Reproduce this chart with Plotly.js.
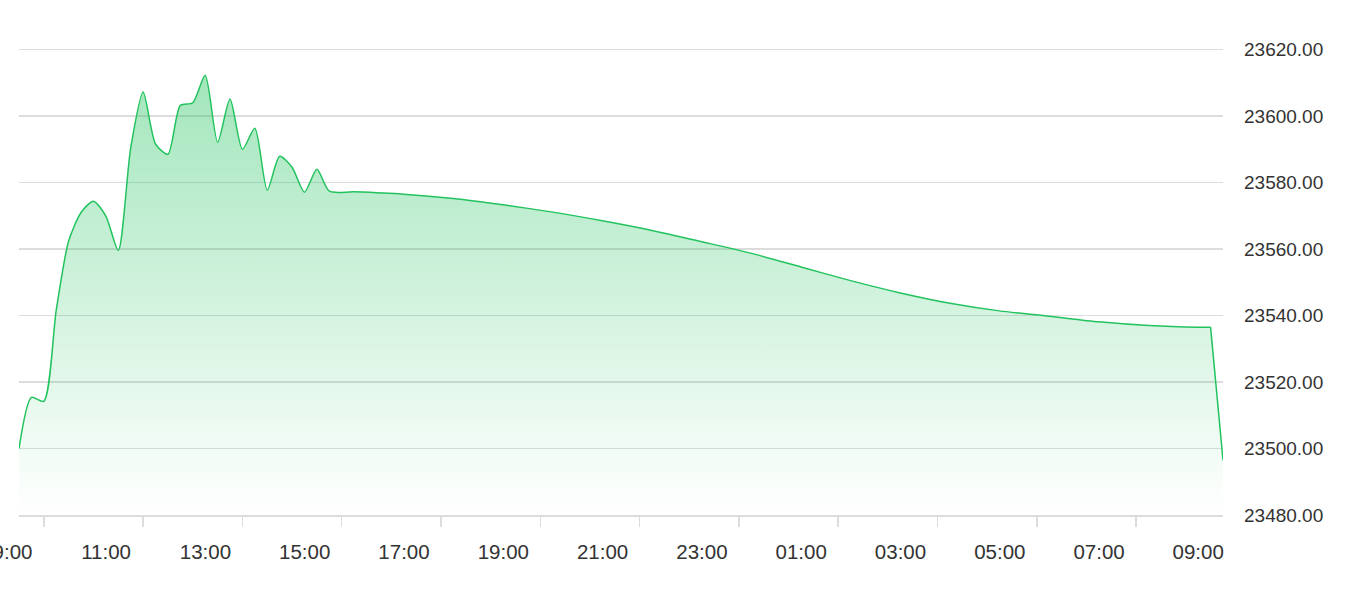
<!DOCTYPE html>
<html>
<head>
<meta charset="utf-8">
<script src="https://cdn.plot.ly/plotly-3.0.1.min.js"></script>
<style>
  html, body { margin: 0; padding: 0; background: #ffffff; }
  #chart { width: 1352px; height: 602px; }
</style>
</head>
<body>
<div id="chart"></div>
<script>
// ---- data ----
const times = [
  '2024-06-10 09:15', '2024-06-10 09:30', '2024-06-10 09:45', '2024-06-10 10:00',
  '2024-06-10 10:15', '2024-06-10 10:30', '2024-06-10 10:45', '2024-06-10 11:00',
  '2024-06-10 11:15', '2024-06-10 11:30', '2024-06-10 11:45', '2024-06-10 12:00',
  '2024-06-10 12:15', '2024-06-10 12:30', '2024-06-10 12:45', '2024-06-10 13:00',
  '2024-06-10 13:15', '2024-06-10 13:30', '2024-06-10 13:45', '2024-06-10 14:00',
  '2024-06-10 14:15', '2024-06-10 14:30', '2024-06-10 14:45', '2024-06-10 15:00',
  '2024-06-10 15:15', '2024-06-10 15:30', '2024-06-10 16:00', '2024-06-10 17:00',
  '2024-06-10 18:00', '2024-06-10 19:00', '2024-06-10 20:00', '2024-06-10 21:00',
  '2024-06-10 22:00', '2024-06-10 23:00', '2024-06-11 00:00', '2024-06-11 01:00',
  '2024-06-11 02:00', '2024-06-11 03:00', '2024-06-11 04:00', '2024-06-11 05:00',
  '2024-06-11 06:00', '2024-06-11 07:00', '2024-06-11 08:00', '2024-06-11 09:00',
  '2024-06-11 09:15', '2024-06-11 09:30'
];
const prices = [
  23500.0, 23515.4, 23514.2, 23541.6,
  23562.4, 23571.0, 23574.4, 23569.9,
  23559.6, 23590.4, 23607.2, 23591.6,
  23588.5, 23603.2, 23604.0, 23612.3,
  23592.1, 23605.1, 23590.0, 23596.3,
  23577.7, 23587.9, 23584.6, 23577.1,
  23584.0, 23577.4, 23577.2, 23576.5,
  23575.2, 23573.3, 23571.1, 23568.5,
  23565.6, 23562.2, 23558.7, 23554.6,
  23550.5, 23546.8, 23543.7, 23541.4,
  23539.8, 23538.1, 23537.0, 23536.5,
  23536.5, 23496.5
];
const xRange = ['2024-06-10 09:15', '2024-06-11 09:30'];
const yRange = [23480, 23631.9];
const tickTimes = [
  '2024-06-10 09:45', '2024-06-10 11:45', '2024-06-10 13:45', '2024-06-10 15:45',
  '2024-06-10 17:45', '2024-06-10 19:45', '2024-06-10 21:45', '2024-06-10 23:45',
  '2024-06-11 01:45', '2024-06-11 03:45', '2024-06-11 05:45', '2024-06-11 07:45'
];
const tickLabels = ['09:00', '11:00', '13:00', '15:00', '17:00', '19:00', '21:00',
                    '23:00', '01:00', '03:00', '05:00', '07:00'];
const lastTickTime = ['2024-06-11 09:00'];
const lastTickLabel = ['09:00'];

// ---- styles ----
const GREEN = 'rgb(34,195,94)';
const GRID = '#dcdcdc';
const TXT = '#333333';
const FONT = 'Liberation Sans, Arial, sans-serif';
const FSY = 19;
const FSX = 20.5;

const gradient = {
  type: 'vertical', start: 23480, stop: 23612,
  colorscale: [[0, 'rgba(34,195,94,0)'], [1, 'rgba(34,195,94,0.42)']]
};
const n = times.length;

const traces = [
  {
    // session + overnight drift (smoothed)
    x: times.slice(0, n - 1), y: prices.slice(0, n - 1), type: 'scatter', mode: 'lines',
    line: { color: GREEN, width: 1.5, shape: 'spline', smoothing: 0.7 },
    fill: 'tozeroy', fillgradient: gradient,
    hoverinfo: 'skip', showlegend: false
  },
  {
    // final drop at the open
    x: times.slice(n - 2), y: prices.slice(n - 2), type: 'scatter', mode: 'lines',
    line: { color: GREEN, width: 1.5, shape: 'linear' },
    fill: 'tozeroy', fillgradient: gradient,
    hoverinfo: 'skip', showlegend: false
  },
  { x: [], y: [], xaxis: 'x2', type: 'scatter', mode: 'lines', hoverinfo: 'skip', showlegend: false }
];

const layout = {
  width: 1352, height: 602,
  margin: { l: 19, r: 129, t: 10, b: 87, pad: 0 },
  paper_bgcolor: '#ffffff', plot_bgcolor: '#ffffff',
  font: { family: FONT, size: FSY, color: TXT },
  showlegend: false,
  xaxis: {
    type: 'date', range: xRange, fixedrange: true,
    tickmode: 'array', tickvals: tickTimes, ticktext: tickLabels,
    ticks: 'outside', ticklen: 10, tickwidth: 1.5, tickcolor: GRID,
    ticklabelshift: -37, ticklabelstandoff: 8, ticklabeloverflow: 'allow',
    showline: true, linecolor: GRID, linewidth: 1.5,
    showgrid: false, zeroline: false,
    tickfont: { family: FONT, size: FSX, color: TXT }
  },
  xaxis2: {
    type: 'date', range: xRange, overlaying: 'x', anchor: 'y', side: 'bottom', fixedrange: true,
    tickmode: 'array', tickvals: lastTickTime, ticktext: lastTickLabel,
    ticks: '', ticklen: 0, ticklabelstandoff: 22, ticklabeloverflow: 'allow',
    showline: false, showgrid: false, zeroline: false,
    tickfont: { family: FONT, size: FSX, color: TXT }
  },
  yaxis: {
    side: 'right', range: yRange, fixedrange: true,
    tick0: 23480, dtick: 20, tickformat: '.2f',
    ticks: '', ticklabelstandoff: 20,
    showgrid: true, gridcolor: GRID, gridwidth: 1.5,
    zeroline: false, showline: false,
    tickfont: { family: FONT, size: FSY, color: TXT }
  }
};

Plotly.newPlot('chart', traces, layout, { staticPlot: true, displayModeBar: false });
</script>
</body>
</html>
